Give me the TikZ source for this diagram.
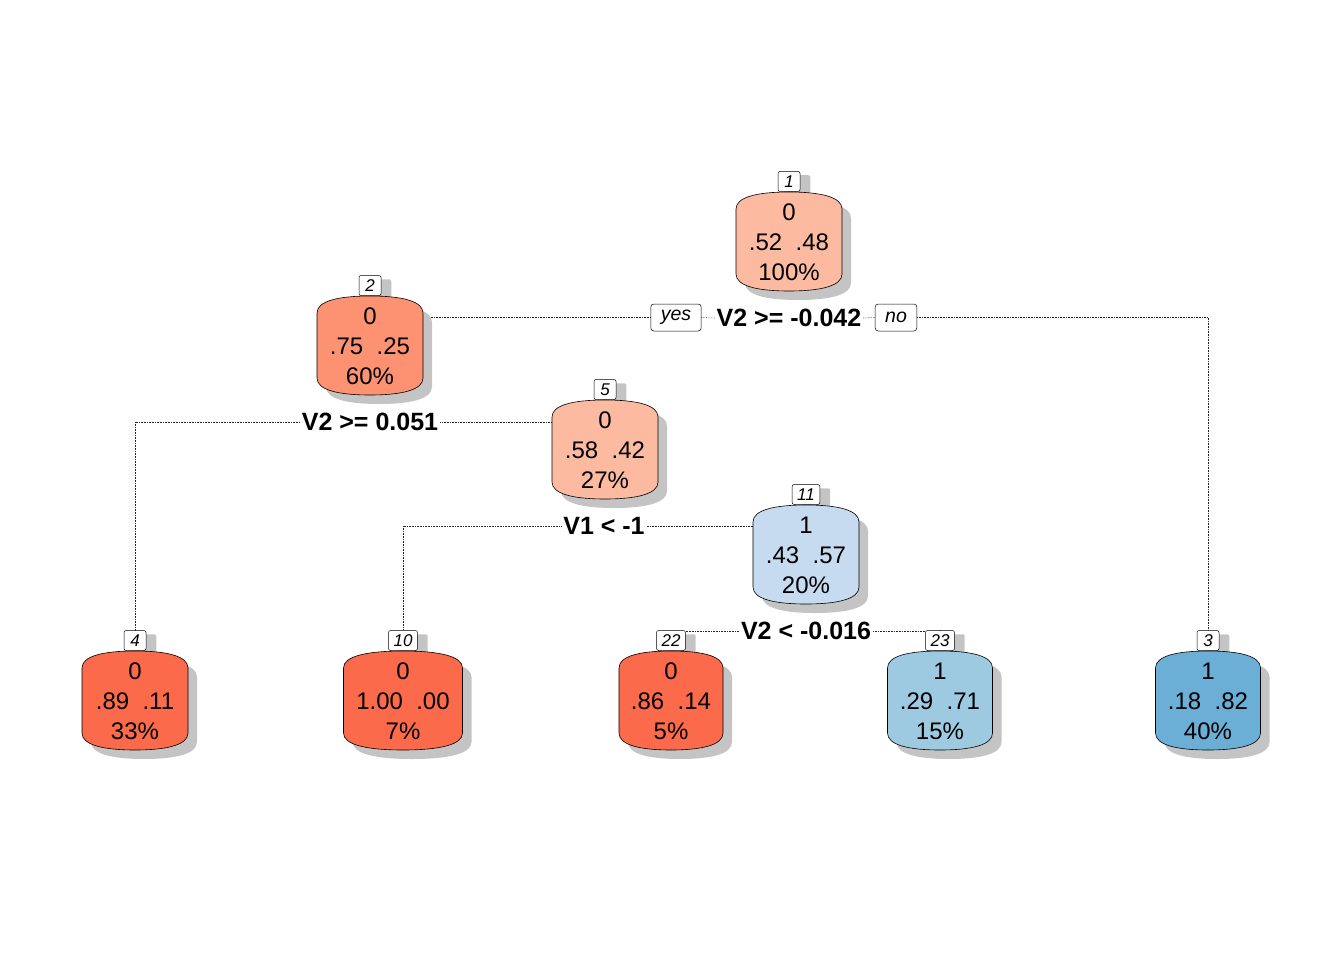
\documentclass[tikz,border=0pt]{standalone}
\usepackage{fontspec}
\setmainfont{Liberation Sans}
\usetikzlibrary{backgrounds}
\definecolor{cA}{HTML}{FCBBA1}
\definecolor{cB}{HTML}{FC9272}
\definecolor{cC}{HTML}{FB6A4A}
\definecolor{cD}{HTML}{C6DBEF}
\definecolor{cE}{HTML}{9ECAE1}
\definecolor{cF}{HTML}{6BAED6}
\definecolor{shadowc}{HTML}{C4C4C4}
\tikzset{
  numbox/.style={draw=black, line width=0.5pt, fill=white, rounded corners=2pt,
    inner xsep=5pt, inner ysep=0pt, minimum width=22pt, minimum height=20pt,
    font=\fontsize{17}{17}\selectfont\itshape},
  splitlbl/.style={font=\fontsize{25}{25}\selectfont\bfseries, inner sep=2pt},
  ynbox/.style={draw=black, line width=0.5pt, fill=white, rounded corners=3pt,
    minimum height=27pt, inner xsep=10pt, inner ysep=0pt,
    font=\fontsize{19.5}{19.5}\selectfont\itshape},
  conn/.style={densely dotted, line width=0.6pt, black!85},
  nodetext/.style={align=center, font=\fontsize{24}{30}\selectfont, inner sep=0pt},
  boxline/.style={draw=black, line width=0.6pt}
}
% #1 name, #2 cx, #3 top, #4 half width, #5 colour, #6 number, #7 text
\newcommand\treenode[7]{%
  \begin{scope}[shift={(#2+9,#3+9)}]
    \fill[shadowc] ({-#4},17) .. controls ({-#4},5) and ({-0.6*#4},0) .. (0,0)
      .. controls ({0.6*#4},0) and ({#4},5) .. ({#4},17) -- ({#4},82)
      .. controls ({#4},94) and ({0.6*#4},99) .. (0,99)
      .. controls ({-0.6*#4},99) and ({-#4},94) .. ({-#4},82) -- cycle;
  \end{scope}
  \begin{scope}[shift={(#2,#3)}]
    \path[boxline, fill=#5] ({-#4},17) .. controls ({-#4},5) and ({-0.6*#4},0) .. (0,0)
      .. controls ({0.6*#4},0) and ({#4},5) .. ({#4},17) -- ({#4},82)
      .. controls ({#4},94) and ({0.6*#4},99) .. (0,99)
      .. controls ({-0.6*#4},99) and ({-#4},94) .. ({-#4},82) -- cycle;
  \end{scope}
  \node[nodetext, minimum width={2*#4}, minimum height=99pt] (#1) at (#2,#3+50) {#7};
  \node[numbox] (lab#1) at (#2,#3-10.5) {#6};
  \begin{scope}[on background layer]
    \fill[shadowc, rounded corners=2pt] ([shift={(10,4)}]lab#1.south west)
      rectangle ([shift={(10,4)}]lab#1.north east);
  \end{scope}
}
\begin{document}
\begin{tikzpicture}[x=1pt,y=-1pt]
\useasboundingbox (0,0) rectangle (1344,960);

% split labels and yes/no boxes
\node[splitlbl] (s1) at (789,318) {V2 >= -0.042};
\node[ynbox] (yes) at (676,317.5) {yes};
\node[ynbox] (no) at (896,317.5) {no};
\node[splitlbl] (s2) at (370,422) {V2 >= 0.051};
\node[splitlbl] (s5) at (604,526) {V1 < -1};
\node[splitlbl] (s11) at (806,631) {V2 < -0.016};

\treenode{n1}{789}{192}{53}{cA}{1}{0\\.52\ \ .48\\100\%}
\treenode{n2}{370}{296}{53}{cB}{2}{0\\.75\ \ .25\\60\%}
\treenode{n5}{605}{400}{53}{cA}{5}{0\\.58\ \ .42\\27\%}
\treenode{n11}{806}{505}{53}{cD}{11}{1\\.43\ \ .57\\20\%}
\treenode{n4}{135}{651}{53}{cC}{4}{0\\.89\ \ .11\\33\%}
\treenode{n10}{403}{651}{59.5}{cC}{10}{0\\1.00\ \ .00\\7\%}
\treenode{n22}{671}{651}{52}{cC}{22}{0\\.86\ \ .14\\5\%}
\treenode{n23}{940}{651}{52.5}{cE}{23}{1\\.29\ \ .71\\15\%}
\treenode{n3}{1208}{651}{52.5}{cF}{3}{1\\.18\ \ .82\\40\%}

\begin{scope}[on background layer]
  \draw[conn] (yes.west) -- (yes.west -| n2.east);
  \draw[conn] (yes.east) -- (s1.west);
  \draw[conn] (s1.east) -- (no.west);
  \draw[conn] (no.east) -| (labn3.north);
  \draw[conn] (s2.west) -| (labn4.north);
  \draw[conn] (s2.east) -- (s2.east -| n5.west);
  \draw[conn] (s5.west) -| (labn10.north);
  \draw[conn] (s5.east) -- (s5.east -| n11.west);
  \draw[conn] (s11.west) -- (s11.west -| labn22.east);
  \draw[conn] (s11.east) -| (labn23.north);
\end{scope}
\end{tikzpicture}
\end{document}
